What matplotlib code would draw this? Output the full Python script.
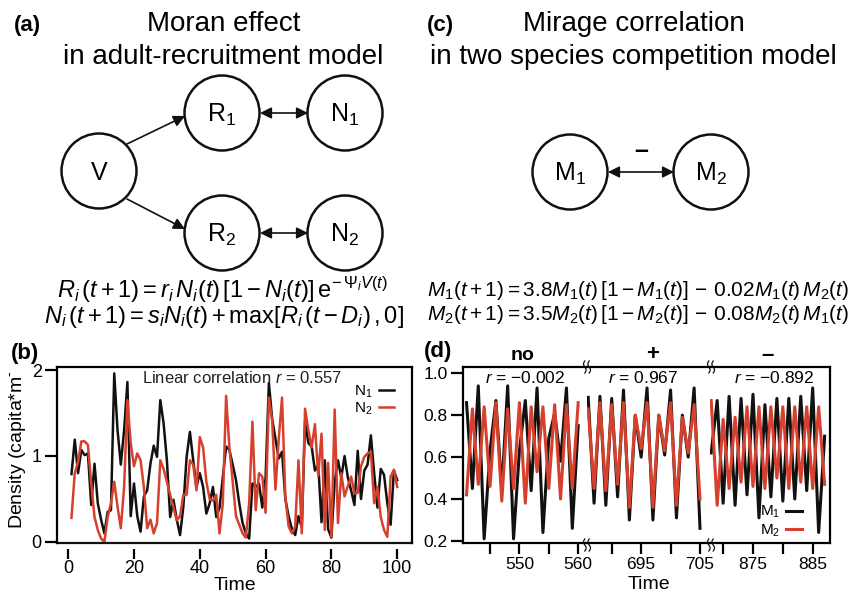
import numpy as np
import matplotlib.pyplot as plt
from matplotlib.patches import Circle, FancyArrowPatch, Rectangle
from matplotlib.transforms import Bbox

plt.rcParams['font.family'] = ['Liberation Sans', 'DejaVu Sans']
plt.rcParams['mathtext.fontset'] = 'custom'
plt.rcParams['mathtext.rm'] = 'Liberation Sans'
plt.rcParams['mathtext.it'] = 'Liberation Sans:italic'
plt.rcParams['mathtext.bf'] = 'Liberation Sans:bold'

RED = '#d6402c'
BLK = '#111111'

# panel (b): adult-recruitment model densities
time_b = list(range(1, 101))
n1 = [0.79, 1.19, 0.80, 1.07, 1.01, 1.03, 0.43, 0.91, 0.45, 0.26,
      0.10, 0.35, 0.37, 1.96, 1.30, 0.90, 1.30, 1.86, 0.30, 0.68,
      0.30, 0.12, 0.53, 0.60, 0.91, 1.12, 0.99, 1.65, 1.38, 0.95,
      0.29, 0.49, 0.26, 0.08, 0.41, 0.99, 1.28, 0.95, 0.64, 0.80,
      0.64, 0.33, 0.45, 0.64, 0.29, 0.40, 0.75, 1.11, 1.07, 0.90,
      0.72, 0.45, 0.22, 0.10, 0.04, 0.68, 0.64, 0.68, 0.40, 0.75,
      1.85, 1.43, 1.20, 0.97, 1.05, 0.50, 0.30, 0.15, 0.08, 0.30,
      0.17, 1.40, 1.15, 1.11, 0.83, 0.90, 0.23, 0.95, 0.15, 0.05,
      0.70, 0.95, 0.75, 1.00, 0.75, 0.60, 0.43, 1.06, 0.50, 0.83,
      0.90, 1.24, 0.80, 0.40, 0.85, 0.78, 0.45, 0.20, 0.83, 0.72]
n2 = [0.28, 0.80, 0.93, 1.17, 1.17, 1.13, 0.68, 0.29, 0.14, 0.04,
      0.00, 0.29, 0.45, 0.70, 0.41, 0.16, 0.64, 1.65, 1.15, 0.88,
      1.03, 0.95, 0.64, 0.16, 0.26, 0.10, 0.22, 0.95, 0.85, 0.70,
      0.55, 0.40, 0.25, 0.30, 0.55, 0.55, 0.95, 0.90, 0.60, 1.22,
      1.10, 0.70, 0.50, 0.48, 0.55, 0.10, 0.45, 1.70, 1.10, 0.70,
      0.30, 0.20, 0.10, 0.05, 0.45, 1.40, 0.37, 0.80, 0.76, 0.34,
      1.68, 1.41, 0.61, 1.20, 1.68, 0.53, 0.18, 0.10, 0.18, 0.95,
      0.10, 1.55, 1.30, 1.10, 1.37, 0.77, 1.26, 0.14, 0.92, 0.06,
      1.54, 0.22, 0.80, 0.53, 0.65, 0.76, 0.57, 0.57, 0.88, 0.99,
      1.03, 1.05, 0.45, 0.64, 0.29, 0.14, 0.06, 0.76, 0.84, 0.64]

# panel (d): three windows of the competition model
t_no = list(range(541, 561))
m1_no = [0.86, 0.45, 0.94, 0.21, 0.63, 0.87, 0.44, 0.94, 0.21, 0.63,
         0.87, 0.44, 0.93, 0.24, 0.69, 0.81, 0.58, 0.93, 0.26, 0.75]
m2_no = [0.42, 0.83, 0.47, 0.84, 0.46, 0.86, 0.39, 0.83, 0.45, 0.86,
         0.38, 0.84, 0.53, 0.84, 0.45, 0.85, 0.40, 0.85, 0.45, 0.86]
t_pos = list(range(686, 706))
m1_pos = [0.885, 0.38, 0.89, 0.37, 0.88, 0.41, 0.92, 0.30, 0.80, 0.60,
          0.93, 0.30, 0.80, 0.61, 0.92, 0.31, 0.80, 0.60, 0.93, 0.26]
m2_pos = [0.83, 0.45, 0.86, 0.44, 0.85, 0.47, 0.86, 0.36, 0.80, 0.64,
          0.86, 0.36, 0.80, 0.63, 0.86, 0.37, 0.79, 0.62, 0.85, 0.40]
t_neg = list(range(868, 888))
m1_neg = [0.62, 0.87, 0.38, 0.89, 0.37, 0.88, 0.42, 0.90, 0.31, 0.85,
          0.41, 0.88, 0.39, 0.88, 0.40, 0.89, 0.44, 0.93, 0.24, 0.70]
m2_neg = [0.87, 0.37, 0.78, 0.45, 0.79, 0.48, 0.84, 0.46, 0.84, 0.45,
          0.84, 0.50, 0.84, 0.45, 0.84, 0.48, 0.84, 0.45, 0.84, 0.47]

segments = [
    (t_no, m1_no, m2_no, (540.4, 561.5), [545, 550, 555, 560], ['', '550', '', '560']),
    (t_pos, m1_pos, m2_pos, (685.8, 706.7), [690, 695, 700, 705], ['', '695', '', '705']),
    (t_neg, m1_neg, m2_neg, (867.8, 887.9), [870, 875, 880, 885], ['', '875', '', '885']),
]

W, H = 849, 594
fig = plt.figure(figsize=(W / 100, H / 100), dpi=100)


def px_axes(x0, y0, x1, y1):
    return fig.add_axes([x0 / W, 1 - y1 / H, (x1 - x0) / W, (y1 - y0) / H])


bg = fig.add_axes([0, 0, 1, 1])
bg.set_xlim(0, W)
bg.set_ylim(H, 0)
bg.axis('off')

# titles and panel letters
bg.text(14, 25, '(a)', fontsize=16, weight='bold', va='center')
bg.text(224, 24, 'Moran effect', fontsize=20, ha='center', va='center')
bg.text(223, 57, 'in adult-recruitment model', fontsize=20, ha='center', va='center')
bg.text(427, 25, '(c)', fontsize=16, weight='bold', va='center')
bg.text(634, 24, 'Mirage correlation', fontsize=20, ha='center', va='center')
bg.text(633, 57, 'in two species competition model', fontsize=20, ha='center', va='center')
bg.text(11, 353, '(b)', fontsize=16, weight='bold', va='center')
bg.text(424, 351, '(d)', fontsize=16, weight='bold', va='center')

# diagrams (a) and (c)
nodes = {'V': (99, 171), 'R$_1$': (222, 113), 'N$_1$': (345, 113),
         'R$_2$': (222, 233), 'N$_2$': (345, 233),
         'M$_1$': (570, 172), 'M$_2$': (711, 172)}
for lab, (cx, cy) in nodes.items():
    bg.add_patch(Circle((cx, cy), 37.5, fill=False, lw=1.8, color=BLK))
    bg.text(cx, cy + 2, lab, fontsize=18, ha='center', va='center')


def arrow(p0, p1, style):
    bg.add_patch(FancyArrowPatch(p0, p1, arrowstyle=style, mutation_scale=17,
                                 lw=1.2, color=BLK, shrinkA=0, shrinkB=0))


arrow((127, 144), (185, 116), '-|>')
arrow((127, 199), (185, 229), '-|>')
arrow((260, 113), (308, 113), '<|-|>')
arrow((260, 233), (308, 233), '<|-|>')
arrow((608, 172), (674, 172), '<|-|>')
bg.text(641, 151, '\u2013', fontsize=18, weight='bold', ha='center', va='center')

# model equations
bg.text(222, 290, r'$R_i\,(t+1) = r_i\,N_i(t)\,[1-N_i(t)]\,\mathrm{e}^{-\,\Psi_i V(t)}$',
        fontsize=17, ha='center', va='center')
bg.text(224, 317, r'$N_i\,(t+1) = s_i N_i(t) + \mathrm{max}[R_i\,(t-D_i)\,,0]$',
        fontsize=17, ha='center', va='center')
bg.text(427, 290, r'$M_1(t+1) = 3.8M_1(t)\,[1-M_1(t)]\, - \,0.02M_1(t)\,M_2(t)$',
        fontsize=15, ha='left', va='center')
bg.text(427, 314, r'$M_2(t+1) = 3.5M_2(t)\,[1-M_2(t)]\, - \,0.08M_2(t)\,M_1(t)$',
        fontsize=15, ha='left', va='center')

# panel (b)
axb = px_axes(57, 367, 412, 543)
axb.plot(time_b, n1, color=BLK, lw=1.8, label='N$_1$')
axb.plot(time_b, n2, color=RED, lw=1.8, label='N$_2$')
axb.set_xlim(-3.4, 104.5)
axb.set_ylim(-0.012, 2.035)
axb.set_xticks([0, 20, 40, 60, 80, 100])
axb.set_yticks([0, 1, 2])
for s in axb.spines.values():
    s.set_linewidth(1.6)
axb.spines['bottom'].set_visible(False)
axb.spines['bottom'].set_position(('outward', 4))
axb.plot([0, 1], [0, 0], transform=axb.transAxes, color=BLK, lw=1.6, clip_on=False)
axb.tick_params(axis='y', direction='out', length=9, width=1.6, labelsize=13, pad=2)
axb.tick_params(axis='x', direction='out', length=7, width=1.6, labelsize=13, pad=1)
axb.set_xlabel('Time', fontsize=14, labelpad=0)
axb.text(0.24, 0.935, 'Linear correlation $r$ = 0.557', transform=axb.transAxes,
         fontsize=12, va='center', color='#222222')
axb.legend(loc='upper right', bbox_to_anchor=(0.975, 0.96), frameon=False, markerfirst=False,
           fontsize=11, handlelength=1.0, handletextpad=0.4, labelspacing=0.05,
           borderpad=0.1)

ylab = fig.text(16 / W, 1 - 441 / H, 'Density (capita*m$^{-3}$)', rotation=90,
                fontsize=14, ha='center', va='center')
ylab.set_clip_box(Bbox.from_extents(0, 0, W, H - 373))
ylab.set_clip_on(True)

# panel (d): broken time axis
edges = [(463, 587), (587, 710), (710, 830)]
seg_axes = []
for k, ((tt, a, b, xl, ticks, labs), (x0, x1)) in enumerate(zip(segments, edges)):
    ax = px_axes(x0, 367, x1, 543)
    ax.plot(tt, a, color=BLK, lw=2.2, label='M$_1$')
    ax.plot(tt, b, color=RED, lw=2.2, label='M$_2$')
    ax.set_xlim(*xl)
    ax.set_ylim(0.19, 1.03)
    ax.set_xticks(ticks)
    ax.set_xticklabels(labs)
    ax.patch.set_alpha(0)
    for s in ax.spines.values():
        s.set_linewidth(1.6)
    ax.spines['left'].set_visible(k == 0)
    ax.spines['right'].set_visible(k == 2)
    ax.tick_params(axis='x', direction='out', length=8, width=1.6, labelsize=12.5, pad=2)
    if k == 0:
        ax.set_yticks([0.2, 0.4, 0.6, 0.8, 1.0])
        ax.tick_params(axis='y', direction='out', length=9, width=1.6, labelsize=12.5, pad=2)
    else:
        ax.tick_params(axis='y', left=False, labelleft=False)
    seg_axes.append(ax)

seg_axes[1].set_xlabel('Time', fontsize=14, labelpad=3)
seg_axes[2].legend(loc='lower right', bbox_to_anchor=(0.84, -0.03), frameon=False,
                   markerfirst=False, fontsize=11, handlelength=1.0, handletextpad=0.4,
                   labelspacing=0.15, borderpad=0.1)

# break marks
for bx in (587, 711):
    for by in (367, 545):
        bg.add_patch(Rectangle((bx - 4, by - 3), 8, 6, color='white', zorder=5))
        yy = np.linspace(-6, 6, 25)
        for off in (-2.2, 2.2):
            bg.plot(bx + off + 1.3 * np.sin(yy / 6 * np.pi), by + yy, color=BLK, lw=0.9, zorder=6)

# segment annotations
bg.text(523, 355, 'no', fontsize=14, weight='bold', ha='center', va='center')
bg.text(653, 354, '+', fontsize=16, weight='bold', ha='center', va='center')
bg.text(768, 355, '\u2013', fontsize=16, weight='bold', ha='center', va='center')
bg.text(525, 378, '$r$ = \u22120.002', fontsize=12.5, ha='center', va='center', zorder=7)
bg.text(643, 378, '$r$ = 0.967', fontsize=12.5, ha='center', va='center', zorder=7)
bg.text(774, 378, '$r$ = \u22120.892', fontsize=12.5, ha='center', va='center', zorder=7)

fig.savefig('out.png', dpi=100)
